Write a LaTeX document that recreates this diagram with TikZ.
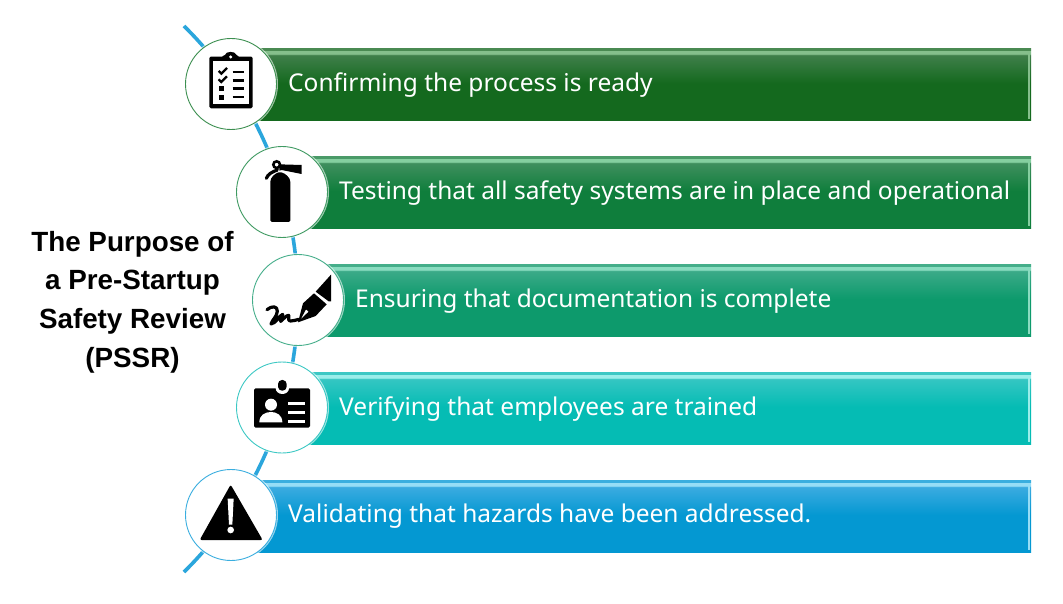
\documentclass[tikz,border=0pt]{standalone}
\usepackage{fontspec}
\setmainfont{Noto Sans}
\newfontfamily\titlefont{Liberation Sans}[BoldFont={Liberation Sans Bold}]
\definecolor{arcblue}{HTML}{2BA6DC}
\definecolor{rimA}{HTML}{3C8F50}
\definecolor{rimB}{HTML}{3F9A62}
\newcommand{\barshade}[5]{%
  \definecolor{#1E}{HTML}{#2}\definecolor{#1L}{HTML}{#3}\definecolor{#1M}{HTML}{#4}\definecolor{#1B}{HTML}{#5}%
  \pgfdeclareverticalshading{#1}{100bp}{color(0bp)=(#1B); color(25bp)=(#1B); color(51bp)=(#1B); color(70.5bp)=(#1M); color(71.5bp)=(#1L); color(73.5bp)=(#1L); color(74bp)=(#1E); color(75bp)=(#1E); color(100bp)=(#1E)}%
}
\barshade{shA}{4A8A52}{85BF8C}{3F7F4A}{14691E}
\barshade{shB}{4A9A68}{85CFA0}{3F8F5E}{0F7E3C}
\barshade{shC}{45AE8A}{8ADCC0}{3BAA88}{0D9A6C}
\barshade{shD}{3CC8C4}{9AEEEA}{34C6C2}{05BCB4}
\barshade{shE}{3AAEDF}{96DDF6}{3BABE0}{0498D2}
\tikzset{
  x=1pt,y=-1pt,
  halo/.style={circle,fill=white,fill opacity=.6,draw=none,minimum size=94pt,inner sep=0pt},
  badge/.style={circle,fill=white,line width=0.9pt,minimum size=91pt,inner sep=0pt},
  bartext/.style={anchor=west,text=white,font=\fontsize{24.5}{29}\selectfont,inner sep=0pt},
  titletext/.style={align=center,font=\titlefont\fontsize{27.8}{38.6}\selectfont\bfseries,text=black,inner sep=0pt}
}
\begin{document}
\begin{tikzpicture}
\useasboundingbox (0,0) rectangle (1063,604);
\fill[white] (0,0) rectangle (1063,604);
% arc behind the bars
\draw[arcblue,line width=3.6pt] (184,26) .. controls (335.9,176.2) and (335.9,421.8) .. (184,572);
% bars
\shade[shading=shA] (231,48.7) rectangle (1031,121);
\shade[shading=shB] (282,156.7) rectangle (1031,228.5);
\shade[shading=shC] (298,264.7) rectangle (1031,336);
\shade[shading=shD] (282,372.7) rectangle (1031,444);
\shade[shading=shE] (231,480.7) rectangle (1031,552);
\fill[shAL] (1028,52) rectangle (1030,119);
\fill[shBL] (1028,160) rectangle (1030,226);
\fill[shCL] (1028,268) rectangle (1030,334);
\fill[shDL] (1028,376) rectangle (1030,442);
\fill[shEL] (1028,484) rectangle (1030,550);
% circles
\node[halo] (h1) at (231,84) {};
\node[halo] (h2) at (282,192) {};
\node[halo] (h3) at (298,300) {};
\node[halo] (h4) at (282,407.5) {};
\node[halo] (h5) at (231,515) {};
\node[badge,draw=rimA] (c1) at (231,84) {};
\node[badge,draw=rimB] (c2) at (282,192) {};
\node[badge,draw=shCE] (c3) at (298,300) {};
\node[badge,draw=shDE] (c4) at (282,407.5) {};
\node[badge,draw=shEE] (c5) at (231,515) {};
% bar texts
\node[bartext] (t1) at (288,85) {Confirming the process is ready};
\node[bartext] (t2) at (339,193) {Testing that all safety systems are in place and operational};
\node[bartext] (t3) at (355,301) {Ensuring that documentation is complete};
\node[bartext] (t4) at (339,409) {Verifying that employees are trained};
\node[bartext] (t5) at (288,516) {Validating that hazards have been addressed.};
% title
\node[titletext] (title) at (132.5,302) {The Purpose of\\a Pre-Startup\\Safety Review\\(PSSR)};
% clipboard
\begin{scope}[shift={(170,15)},scale=1/3]
\fill[black,rounded corners=1.5pt] (118,125) rectangle (248,280);
\fill[white] (129,138) rectangle (237,268);
\fill[black,rounded corners=1pt] (157,138) -- (157,122) -- (165,122) .. controls (167,108) and (197,108) .. (199,122) -- (206,122) -- (206,138) -- cycle;
\fill[white] (182,126) circle (5);
\draw[black,line width=2.3pt] (146,168) -- (154,176) -- (171,159);
\draw[black,line width=2.3pt] (146,193) -- (154,201) -- (171,184);
\fill[black] (148,213) rectangle (163,227);
\fill[black] (148,240) rectangle (163,254);
\draw[black,line width=2.5pt] (188,171) -- (222,171);
\draw[black,line width=2.5pt] (188,196) -- (222,196);
\draw[black,line width=2.5pt] (188,220) -- (222,220);
\draw[black,line width=2.5pt] (188,246) -- (222,246);
\end{scope}
% extinguisher
\begin{scope}[shift={(240,150)},scale=1/3]
\fill[black,rounded corners=1.5pt] (91,216) -- (91,100) .. controls (91,82) and (105,70) .. (120,66) .. controls (135,70) and (151,82) .. (151,100) -- (151,216) -- cycle;
\draw[black,line width=2.6pt] (110,44) circle (10);
\fill[black] (118,43) -- (185,45) -- (185,72) -- (125,60) -- (118,62) -- cycle;
\draw[black,line width=3.2pt,line cap=round] (79,85) .. controls (84,72) and (96,66) .. (112,60);
\end{scope}
% pen
\begin{scope}[shift={(170,240)},scale=1/3]
\fill[black] (437,155) -- (483,104) -- (483,184) -- (476,184) -- cycle;
\fill[black,even odd rule] (432,160) -- (470,193) -- (437,228) -- (384,247) -- (399,190) -- cycle
  (392,238) -- (408,208) -- (416,215) -- cycle;
\draw[black,line width=3.2pt,line cap=round,line join=round] (291,209) .. controls (305,197) and (323,197) .. (322,214) .. controls (321,230) and (306,240) .. (303,252) .. controls (318,250) and (326,228) .. (338,223) .. controls (340,232) and (328,240) .. (332,244) .. controls (340,238) and (348,226) .. (356,226) .. controls (358,236) and (352,242) .. (362,243) .. controls (370,243) and (378,240) .. (386,238);
\end{scope}
% id badge
\begin{scope}[shift={(170,240)},scale=1/3]
\fill[black,rounded corners=1.5pt] (252,445) rectangle (420,563);
\fill[white] (337,445) ellipse (20 and 17);
\fill[white] (310,430) rectangle (365,445);
\fill[black,rounded corners=4pt] (324,420) rectangle (350,452);
\fill[white] (303,494) circle (18);
\fill[white] (268,547) .. controls (268,525) and (285,516) .. (303,516) .. controls (320,516) and (337,525) .. (337,547) -- cycle;
\fill[white] (353,487) rectangle (405,496);
\fill[white] (353,513) rectangle (405,522);
\fill[white] (353,539) rectangle (405,548);
\end{scope}
% warning
\begin{scope}[shift={(170,450)},scale=1/3]
\fill[black,rounded corners=2pt] (182,104) -- (278,270) -- (89,270) -- cycle;
\fill[white] (173,146) -- (191,146) -- (187,224) -- (177,224) -- cycle;
\fill[white] (182,240) circle (10);
\end{scope}
\end{tikzpicture}
\end{document}
